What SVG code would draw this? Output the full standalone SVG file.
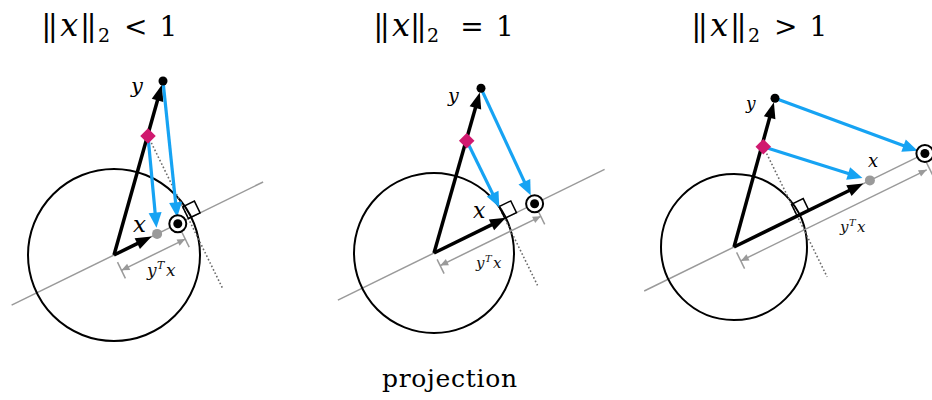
<svg xmlns="http://www.w3.org/2000/svg" width="932" height="400" viewBox="0 0 932 400">
<style>
text{font-family:'DejaVu Serif',serif;fill:#000}
.it{font-style:italic}
.ttl{font-size:28px;text-anchor:middle}
.tx{font-size:32px;font-style:italic}
.bars{letter-spacing:-3.5px;font-size:30px}
.sub{font-size:19px}
.lbl{fill:#111}
.axis{stroke:#9a9a9a;stroke-width:1.5;fill:none}
.circ{stroke:#000;stroke-width:2;fill:none}
.dot{stroke:#6a6a6a;stroke-width:1.6;stroke-dasharray:1.6 2.2;fill:none}
.sq{stroke:#000;stroke-width:1.5;fill:none}
.tick{stroke:#9a9a9a;stroke-width:1.5}
.dim{stroke:#9a9a9a;stroke-width:1.5;marker-start:url(#ahG);marker-end:url(#ahG)}
.vec{stroke:#000;stroke-width:3.5;marker-end:url(#ahK)}
.proj{stroke:#16a3f3;stroke-width:3.2;marker-end:url(#ahC)}
.ring{stroke:#000;stroke-width:2;fill:#fff}
.pk{fill:#d0196f}
.gd{fill:#9a9a9a}
</style>
<defs>
<marker id="ahK" markerUnits="userSpaceOnUse" markerWidth="20" markerHeight="20" refX="0" refY="7" orient="auto" overflow="visible"><path d="M-1,1 L15,7 L-1,13 z" fill="#000"/></marker>
<marker id="ahC" markerUnits="userSpaceOnUse" markerWidth="20" markerHeight="20" refX="0" refY="7" orient="auto" overflow="visible"><path d="M-1,0.5 L14,7 L-1,13.5 z" fill="#16a3f3"/></marker>
<marker id="ahG" markerUnits="userSpaceOnUse" markerWidth="10" markerHeight="10" refX="8" refY="3.5" orient="auto-start-reverse" overflow="visible"><path d="M0,0 L8,3.5 L0,7 z" fill="#9a9a9a"/></marker>
</defs>
<rect width="932" height="400" fill="#fff"/>

<!-- Panel 1 -->
<g id="panel1">
  <text id="title1" class="ttl" y="36"><tspan x="47.75" class="bars">||</tspan><tspan x="69.2" class="tx">x</tspan><tspan x="86.6" class="bars">||</tspan><tspan x="104" y="42" class="sub">2</tspan><tspan x="135.8" y="36">&lt;</tspan><tspan x="168.3">1</tspan></text>
  <line class="axis" x1="11.6" y1="305.2" x2="263.1" y2="182.0"/>
  <circle id="unit1" class="circ" cx="114" cy="255" r="86"/>
  <line class="dot" x1="148" y1="136" x2="223.2" y2="289.6"/>
  <polygon class="sq" points="188.4,218.5 200.1,212.8 194.4,201.1 182.7,206.8"/>
  <g id="connectors1">
    <line class="tick" x1="117.5" y1="262.2" x2="125.4" y2="278.3"/>
    <line class="tick" x1="181.3" y1="231.0" x2="189.2" y2="247.1"/>
    <line class="dim" x1="121.5" y1="270.3" x2="185.3" y2="239.1"/>
    <line class="vec" x1="114" y1="255" x2="157.8" y2="99.3"/>
    <line class="vec" x1="114" y1="255" x2="138.2" y2="243.1"/>
    <line class="proj" x1="148" y1="136" x2="155.2" y2="213.7"/>
    <line class="proj" x1="163" y1="81" x2="175.7" y2="203.3"/>
  </g>
  <g id="p1-x"><circle class="gd" cx="157.1" cy="233.9" r="5"/><text class="it" x="133" y="232" font-size="23">x</text></g>
  <g id="p1-proj"><circle class="ring" cx="177.8" cy="223.8" r="8.5"/><circle cx="177.8" cy="223.8" r="4.5"/></g>
  <g id="p1-y"><circle cx="163" cy="81" r="4.5"/><text class="it" x="131" y="93" font-size="21">y</text></g>
  <g id="p1-k"><rect class="pk" x="-5.5" y="-5.5" width="11" height="11" transform="translate(148 136) rotate(45)"/></g>
  <text id="p1-ytx" class="lbl" x="147" y="275.5" font-size="17"><tspan class="it">y</tspan><tspan x="157" y="268.5" font-size="11" class="it">T</tspan><tspan x="166" y="275.5" class="it">x</tspan></text>
</g>

<!-- Panel 2 -->
<g id="panel2">
  <text id="title2" class="ttl" y="36"><tspan x="379.75" class="bars">||</tspan><tspan x="401" class="tx">x</tspan><tspan x="416.5" class="bars">||</tspan><tspan x="433" y="42" class="sub">2</tspan><tspan x="472" y="36">=</tspan><tspan x="505">1</tspan></text>
  <line class="axis" x1="337.9" y1="300.1" x2="604.6" y2="169.4"/>
  <circle id="unit2" class="circ" cx="434" cy="253" r="80"/>
  <line class="dot" x1="466.7" y1="140.7" x2="537.5" y2="285.3"/>
  <polygon class="sq" points="504.8,218.3 516.5,212.6 510.8,200.9 499.1,206.6"/>
  <g id="connectors2">
    <line class="tick" x1="437.1" y1="259.3" x2="444.1" y2="273.7"/>
    <line class="tick" x1="537.7" y1="210.0" x2="544.7" y2="224.4"/>
    <line class="dim" x1="440.2" y1="265.6" x2="540.8" y2="216.3"/>
    <line class="vec" x1="434" y1="253" x2="475.7" y2="106.9"/>
    <line class="vec" x1="434" y1="253" x2="492.4" y2="224.4"/>
    <line class="proj" x1="466.7" y1="140.7" x2="493.1" y2="194.6"/>
    <line class="proj" x1="481" y1="88.3" x2="524.8" y2="182.6"/>
  </g>
  <g id="p2-x"><text class="it" x="473" y="218" font-size="22">x</text></g>
  <g id="p2-proj"><circle class="ring" cx="534.6" cy="203.7" r="8.5"/><circle cx="534.6" cy="203.7" r="4.5"/></g>
  <g id="p2-y"><circle cx="481" cy="88.3" r="4.5"/><text class="it" x="448" y="102" font-size="19">y</text></g>
  <g id="p2-k"><rect class="pk" x="-5.5" y="-5.5" width="11" height="11" transform="translate(466.7 140.7) rotate(45)"/></g>
  <text id="p2-ytx" class="lbl" x="476" y="268" font-size="15"><tspan class="it">y</tspan><tspan x="485" y="262" font-size="10" class="it">T</tspan><tspan x="493" y="268" class="it">x</tspan></text>
</g>

<!-- Panel 3 -->
<g id="panel3">
  <text id="title3" class="ttl" y="36"><tspan x="697.75" class="bars">||</tspan><tspan x="719.2" class="tx">x</tspan><tspan x="736.6" class="bars">||</tspan><tspan x="754" y="42" class="sub">2</tspan><tspan x="785.8" y="36">&gt;</tspan><tspan x="818.3">1</tspan></text>
  <line class="axis" x1="644.2" y1="291" x2="936.1" y2="148"/>
  <circle id="unit3" class="circ" cx="734" cy="247" r="73"/>
  <line class="dot" x1="763.3" y1="146.7" x2="827.1" y2="276.9"/>
  <polygon class="sq" points="797.2,216.0 808.9,210.3 803.2,198.6 791.5,204.3"/>
  <g id="connectors3">
    <line class="tick" x1="736.6" y1="252.4" x2="744.6" y2="268.6"/>
    <line class="tick" x1="925.2" y1="160" x2="933.2" y2="176.2"/>
    <line class="dim" x1="740.8" y1="260.9" x2="926.7" y2="169.8"/>
    <line class="vec" x1="734" y1="247" x2="769.9" y2="116.8"/>
    <line class="vec" x1="734" y1="247" x2="849.8" y2="190.2"/>
    <line class="proj" x1="763.3" y1="146.7" x2="849.1" y2="173.8"/>
    <line class="proj" x1="775" y1="98.3" x2="904.5" y2="146.0"/>
  </g>
  <g id="p3-x"><circle class="gd" cx="869.9" cy="180.4" r="5"/><text class="it" x="868" y="167" font-size="18">x</text></g>
  <g id="p3-proj"><circle class="ring" cx="924.9" cy="153.5" r="8.5"/><circle cx="924.9" cy="153.5" r="4.5"/></g>
  <g id="p3-y"><circle cx="775" cy="98.3" r="4.5"/><text class="it" x="746" y="109" font-size="17">y</text></g>
  <g id="p3-k"><rect class="pk" x="-5.5" y="-5.5" width="11" height="11" transform="translate(763.3 146.7) rotate(45)"/></g>
  <text id="p3-ytx" class="lbl" x="840" y="232" font-size="15"><tspan class="it">y</tspan><tspan x="849" y="226" font-size="10" class="it">T</tspan><tspan x="857" y="232" class="it">x</tspan></text>
</g>

<text id="caption" x="382" y="387" font-size="25" textLength="135" lengthAdjust="spacing">projection</text>
</svg>
